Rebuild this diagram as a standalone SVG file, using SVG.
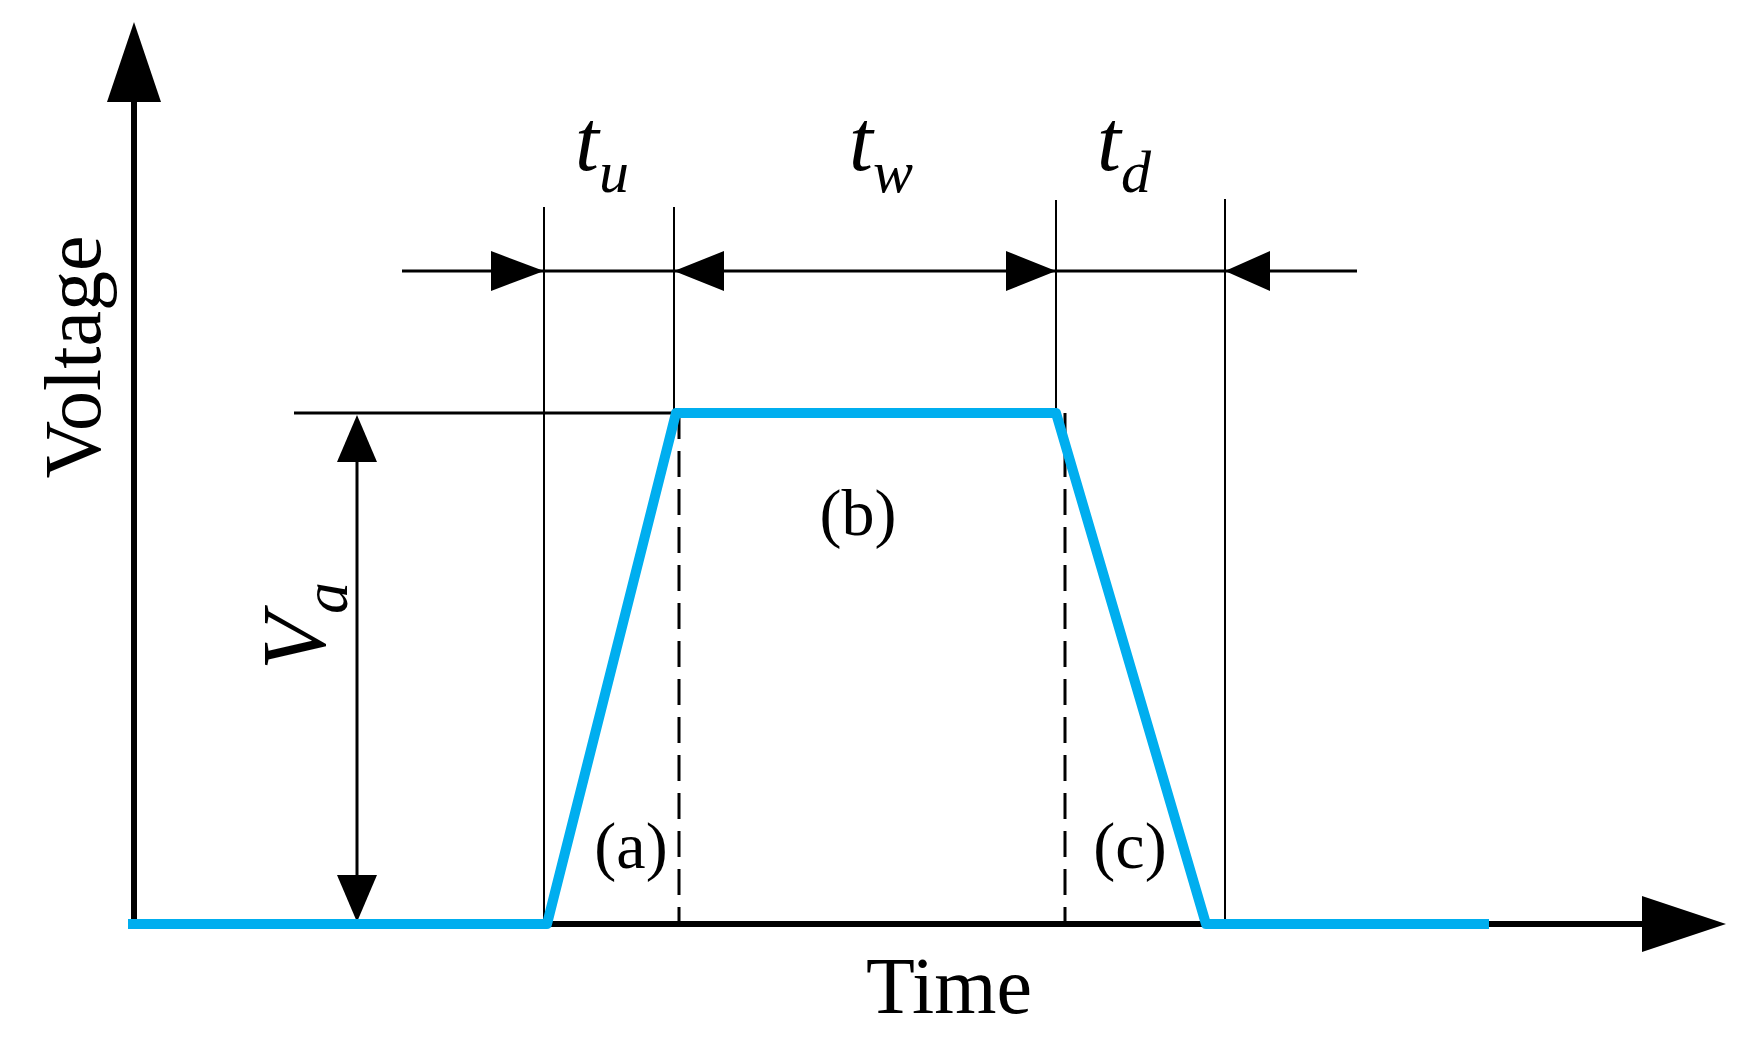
<svg xmlns="http://www.w3.org/2000/svg" width="1752" height="1042" viewBox="0 0 1752 1042">
<style>
.thin{stroke:#000;stroke-width:2;fill:none}
.ax{stroke:#000;stroke-width:6;fill:none}
.blue{stroke:#00aeef;stroke-width:10;fill:none;stroke-linejoin:round}
.dash{stroke:#000;stroke-width:3;stroke-dasharray:26,12;fill:none}
text{font-family:"Liberation Serif",serif;fill:#000}
.it{font-style:italic}
</style>
<rect width="1752" height="1042" fill="#fff"/>
<g id="connectors">
<line class="ax" x1="134" y1="926" x2="134" y2="90"/>
<polygon points="134,22 107,102 161,102"/>
<line class="ax" x1="130" y1="924" x2="1650" y2="924"/>
<polygon points="1726,924 1642,896 1642,952"/>
<line class="thin" x1="544" y1="207" x2="544" y2="924"/>
<line class="thin" x1="674" y1="207" x2="674" y2="413"/>
<line class="thin" x1="1056" y1="200" x2="1056" y2="413"/>
<line class="thin" x1="1225" y1="199" x2="1225" y2="924"/>
<line class="dash" x1="679" y1="413" x2="679" y2="924"/>
<line class="dash" x1="1065" y1="413" x2="1065" y2="924"/>
<line class="ax" x1="402" y1="271" x2="1357" y2="271" style="stroke-width:3"/>
<polygon points="544,271 491,251 491,291"/>
<polygon points="674,271 724,251 724,291"/>
<polygon points="1056,271 1006,251 1006,291"/>
<polygon points="1225,271 1270,251 1270,291"/>
<line class="ax" x1="294" y1="413" x2="676" y2="413" style="stroke-width:3"/>
<line class="ax" x1="357" y1="450" x2="357" y2="890" style="stroke-width:3"/>
<polygon points="357,415 337,462 377,462"/>
<polygon points="357,922 337,875 377,875"/>
<polyline class="blue" points="128,924 547,924 676,413 1056,413 1206,924 1489,924"/>
</g>
<g id="labels">
<text x="575" y="170" font-size="86" class="it">t<tspan font-size="60" dy="22">u</tspan></text>
<text x="849" y="170" font-size="86" class="it">t<tspan font-size="60" dy="22">w</tspan></text>
<text x="1097" y="170" font-size="86" class="it">t<tspan font-size="60" dy="22">d</tspan></text>
<text x="858" y="535" font-size="66" text-anchor="middle">(b)</text>
<text x="631" y="868" font-size="66" text-anchor="middle">(a)</text>
<text x="1130" y="868" font-size="66" text-anchor="middle">(c)</text>
<text x="949" y="1013" font-size="80" text-anchor="middle">Time</text>
<text transform="translate(100,357) rotate(-90)" font-size="80" text-anchor="middle">Voltage</text>
<text transform="translate(325,626) rotate(-90)" font-size="92" text-anchor="middle" class="it">V<tspan font-size="64" dy="22">a</tspan></text>
</g>
</svg>
